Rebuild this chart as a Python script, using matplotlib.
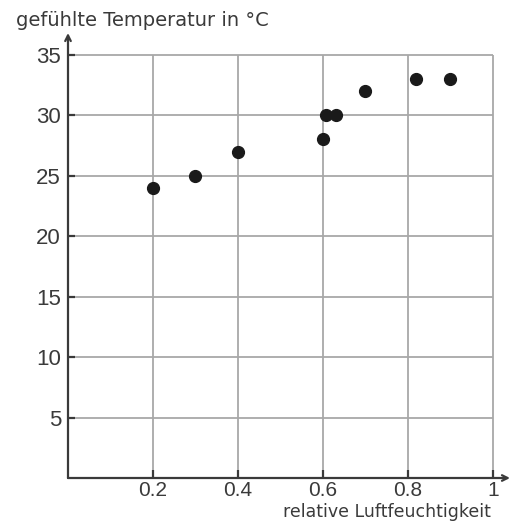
"""Gefühlte Temperatur vs. relative Luftfeuchtigkeit."""
import matplotlib
matplotlib.use("Agg")
import matplotlib.pyplot as plt

plt.rcParams["font.family"] = ["Liberation Sans", "DejaVu Sans"]

humidity = [0.2, 0.3, 0.4, 0.6, 0.607, 0.63, 0.7, 0.82, 0.9]
felt_temp = [24, 25, 27, 28, 30, 30, 32, 33, 33]
x_ticks = [0.2, 0.4, 0.6, 0.8, 1]
x_labels = ["0.2", "0.4", "0.6", "0.8", "1"]
y_ticks = [5, 10, 15, 20, 25, 30, 35]

W, H = 515, 527
AX_COL = "#3a3a3a"
fig = plt.figure(figsize=(W / 100, H / 100), dpi=100)
ax = fig.add_axes([68 / W, (H - 478) / H, 442 / W, 445 / H])
ax.set_xlim(0, 1.04)
ax.set_ylim(0, 36.8)

for s in ax.spines.values():
    s.set_visible(False)

ax.set_xticks(x_ticks, x_labels)
ax.set_yticks(y_ticks)
ax.tick_params(length=0, labelsize=16, colors=AX_COL, pad=5)
ax.tick_params(axis="x", labelsize=15, pad=2)

# grid only inside 0..1 / 0..35
ax.vlines(x_ticks, 0, max(y_ticks), color="#a8a8a8", lw=1.3, zorder=1)
ax.hlines(y_ticks, 0, max(x_ticks), color="#a8a8a8", lw=1.3, zorder=1)

# small dark ticks on the axes
ax.vlines(x_ticks, 0, 0.7, color=AX_COL, lw=1.6, zorder=2, clip_on=False)
ax.hlines(y_ticks, 0, 0.017, color=AX_COL, lw=1.6, zorder=2, clip_on=False)

arrow = dict(arrowstyle="->", color=AX_COL, lw=1.6, shrinkA=0, shrinkB=0)
ax.annotate("", xy=(1.04, 0), xytext=(0, 0), arrowprops=arrow, annotation_clip=False)
ax.annotate("", xy=(0, 36.8), xytext=(0, 0), arrowprops=arrow, annotation_clip=False)

ax.plot(humidity, felt_temp, "o", color="#1a1a1a", ms=8.5, clip_on=False, zorder=5)

fig.text(16 / W, 1 - 26 / H, "gefühlte Temperatur in °C", fontsize=14,
         family="DejaVu Sans", color=AX_COL)
fig.text(491 / W, 1 - 517 / H, "relative Luftfeuchtigkeit", fontsize=12.5,
         family="DejaVu Sans", color=AX_COL, ha="right")

fig.savefig("out.png", dpi=100)
